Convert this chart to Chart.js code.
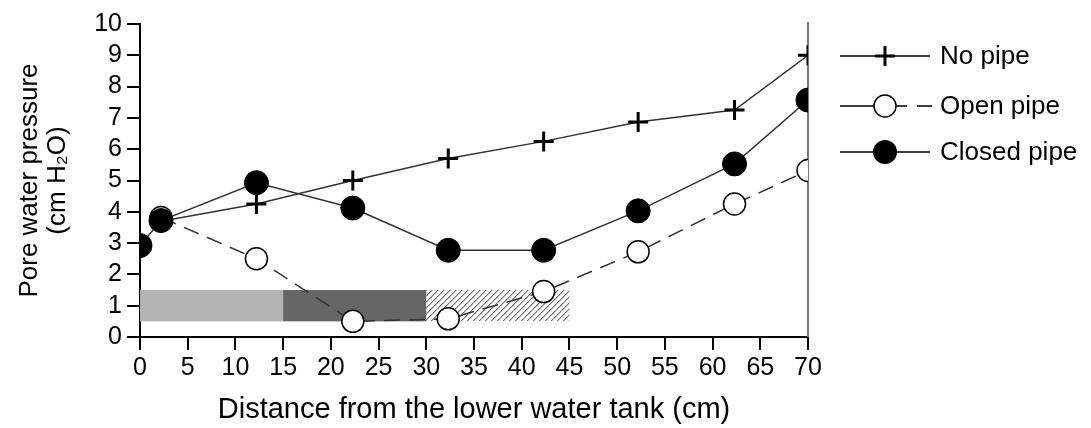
<!DOCTYPE html>
<html>
<head>
<meta charset="utf-8">
<script src="https://cdn.jsdelivr.net/npm/chart.js@4.4.1/dist/chart.umd.min.js"></script>
<style>
  html, body { margin: 0; padding: 0; background: #fff; }
  #wrap { width: 1091px; height: 428px; }
</style>
</head>
<body>
<div id="wrap"><canvas id="chartPressure"></canvas></div>
<script>
// distance from lower water tank (cm)
const distNoPipe = [2.2, 12.2, 22.3, 32.3, 42.3, 52.2, 62.3, 70];
const valNoPipe = [3.7, 4.25, 5.0, 5.7, 6.25, 6.87, 7.25, 9.0];

const distOpen = [2.2, 12.2, 22.3, 32.3, 42.3, 52.2, 62.3, 70];
const valOpen = [3.82, 2.5, 0.5, 0.58, 1.45, 2.72, 4.25, 5.32];

const distClosed = [0, 2.2, 12.2, 22.3, 32.3, 42.3, 52.2, 62.3, 70];
const valClosed = [2.92, 3.72, 4.93, 4.12, 2.77, 2.77, 4.03, 5.53, 7.57];

// pipe zones along the bottom (cm) and their pressure band
const zoneStart = [0, 15, 30];
const zoneEnd = [15, 30, 45];
const zoneLow = 0.5;
const zoneHigh = 1.5;

const xTicks = [0, 70, 5];
const yTicks = [0, 10, 1];

const legendLabels = ['No pipe', 'Open pipe', 'Closed pipe'];

const toPts = (xs, ys) => xs.map((x, i) => ({ x, y: ys[i] }));

const FONT = '"Liberation Sans", Arial, sans-serif';

const zonesPlugin = {
    id: 'zones',
    beforeDatasetsDraw(chart) {
        const { ctx, scales: { x, y } } = chart;
        const fills = ['#b3b3b3', '#666666', 'hatch'];
        const top = y.getPixelForValue(zoneHigh);
        const bot = y.getPixelForValue(zoneLow);
        ctx.save();
        zoneStart.forEach((s, i) => {
            const l = x.getPixelForValue(s);
            const r = x.getPixelForValue(zoneEnd[i]);
            if (fills[i] !== 'hatch') {
                ctx.fillStyle = fills[i];
                ctx.fillRect(l, top, r - l, bot - top);
            } else {
                ctx.save();
                ctx.beginPath();
                ctx.rect(l, top, r - l, bot - top);
                ctx.clip();
                ctx.strokeStyle = '#333';
                ctx.lineWidth = 1;
                const h = bot - top;
                for (let k = l - h; k < r + h; k += 6) {
                    ctx.beginPath();
                    ctx.moveTo(k, bot);
                    ctx.lineTo(k + h, top);
                    ctx.stroke();
                }
                ctx.restore();
            }
        });
        // right frame line
        const xr = x.getPixelForValue(70);
        ctx.strokeStyle = '#777';
        ctx.lineWidth = 2;
        ctx.beginPath();
        ctx.moveTo(xr, y.getPixelForValue(10) - 2);
        ctx.lineTo(xr, y.getPixelForValue(0));
        ctx.stroke();
        ctx.restore();
    }
};

const legendPlugin = {
    id: 'sideLegend',
    afterDraw(chart) {
        const ctx = chart.ctx;
        const x0 = 840, x1 = 930, xm = 885, tx = 940;
        const rows = [56, 106, 152];
        ctx.save();
        ctx.strokeStyle = '#000';
        ctx.lineWidth = 1.5;
        // No pipe
        ctx.beginPath(); ctx.moveTo(x0, rows[0]); ctx.lineTo(x1, rows[0]); ctx.stroke();
        ctx.lineWidth = 3;
        ctx.beginPath();
        ctx.moveTo(xm - 10, rows[0]); ctx.lineTo(xm + 10, rows[0]);
        ctx.moveTo(xm, rows[0] - 10); ctx.lineTo(xm, rows[0] + 10);
        ctx.stroke();
        // Open pipe
        ctx.lineWidth = 1.5;
        ctx.beginPath();
        ctx.moveTo(x0, rows[1]); ctx.lineTo(xm - 11, rows[1]);
        ctx.moveTo(xm + 11, rows[1]); ctx.lineTo(xm + 22, rows[1]);
        ctx.moveTo(xm + 32, rows[1]); ctx.lineTo(x1 + 2, rows[1]);
        ctx.stroke();
        ctx.beginPath(); ctx.arc(xm, rows[1], 11, 0, Math.PI * 2);
        ctx.fillStyle = '#fff'; ctx.fill(); ctx.stroke();
        // Closed pipe
        ctx.beginPath(); ctx.moveTo(x0, rows[2]); ctx.lineTo(x1, rows[2]); ctx.stroke();
        ctx.beginPath(); ctx.arc(xm, rows[2], 12, 0, Math.PI * 2);
        ctx.fillStyle = '#000'; ctx.fill();
        // labels
        ctx.fillStyle = '#000';
        ctx.font = '26px ' + FONT;
        ctx.textBaseline = 'middle';
        legendLabels.forEach((t, i) => ctx.fillText(t, tx, rows[i] + 1));
        ctx.restore();
    }
};

const lineColor = '#333';

new Chart(document.getElementById('chartPressure'), {
    type: 'line',
    data: {
        datasets: [
            {
                label: legendLabels[2], data: toPts(distClosed, valClosed), order: 1,
                borderColor: lineColor, borderWidth: 1.5,
                pointStyle: 'circle', pointRadius: 12, pointBackgroundColor: '#000', pointBorderColor: '#000', pointBorderWidth: 1
            },
            {
                label: legendLabels[0], data: toPts(distNoPipe, valNoPipe), order: 2,
                borderColor: lineColor, borderWidth: 1.5,
                pointStyle: 'cross', pointRadius: 10, pointBorderColor: '#000', pointBorderWidth: 3
            },
            {
                label: legendLabels[1], data: toPts(distOpen, valOpen), order: 3,
                borderColor: lineColor, borderWidth: 1.5, borderDash: [16, 9],
                pointStyle: 'circle', pointRadius: 11, pointBackgroundColor: '#fff', pointBorderColor: '#000', pointBorderWidth: 1.5
            }
        ]
    },
    options: {
        responsive: true,
        maintainAspectRatio: false,
        animation: false,
        layout: { padding: { top: 24, right: 283, bottom: 1, left: 16 } },
        plugins: { legend: { display: false }, tooltip: { enabled: false } },
        scales: {
            x: {
                type: 'linear', min: xTicks[0], max: xTicks[1],
                afterFit(axis) { axis.height = 90; },
                ticks: { stepSize: xTicks[2], autoSkip: false, color: '#000', font: { family: FONT, size: 25 }, padding: 3, maxRotation: 0 },
                grid: { drawOnChartArea: false, tickLength: 13, color: '#000', lineWidth: 2 },
                border: { color: '#000', width: 2 },
                title: { display: true, text: 'Distance from the lower water tank (cm)', color: '#000', font: { family: FONT, size: 29, lineHeight: 1.2 }, padding: { top: 0, bottom: 0 } }
            },
            y: {
                min: yTicks[0], max: yTicks[1],
                afterFit(axis) { axis.width = 124; },
                ticks: { stepSize: yTicks[2], autoSkip: false, color: '#000', font: { family: FONT, size: 25 }, padding: 5 },
                grid: { drawOnChartArea: false, tickLength: 13, color: '#000', lineWidth: 2 },
                border: { color: '#000', width: 2 },
                title: { display: true, text: ['Pore water pressure', '(cm H₂O)'], color: '#000', font: { family: FONT, size: 26, lineHeight: 1.08 }, padding: { top: 0, bottom: 0 } }
            }
        }
    },
    plugins: [zonesPlugin, legendPlugin]
});
</script>
</body>
</html>
